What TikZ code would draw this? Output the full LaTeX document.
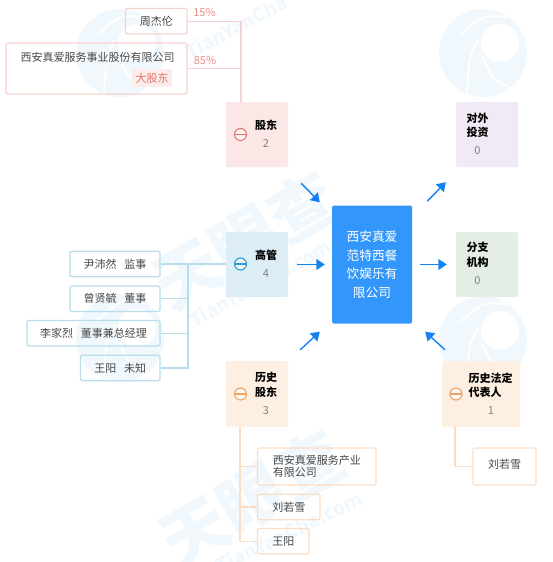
\documentclass[tikz,border=0pt]{standalone}
\usepackage{fontspec}
\setmainfont{Noto Sans CJK SC}
\usetikzlibrary{arrows.meta}
\definecolor{redbg}{HTML}{FBE7E6}
\definecolor{redln}{HTML}{F6D2CE}
\definecolor{redtx}{HTML}{E2796F}
\definecolor{bluebg}{HTML}{DCEDF5}
\definecolor{blueln}{HTML}{B8DDEB}
\definecolor{bluetx}{HTML}{2F9BD0}
\definecolor{orgbg}{HTML}{FEEFE3}
\definecolor{orgln}{HTML}{FBDDC4}
\definecolor{orgtx}{HTML}{F0A164}
\definecolor{purbg}{HTML}{F1E9F6}
\definecolor{grnbg}{HTML}{E4EEE5}
\definecolor{mainbg}{HTML}{3396FB}
\definecolor{flowcl}{HTML}{1482F0}
\definecolor{wmark}{HTML}{F1F8FD}
\tikzset{
  catbox/.style={rounded corners=1.2pt, minimum width=62pt, minimum height=65pt, inner sep=0pt},
  leafbox/.style={draw, rounded corners=1.5pt, line width=1.1pt, inner sep=0pt, minimum height=25.5pt, font=\fontsize{11}{12.5}\selectfont, text=black!72},
  leaftext/.style={inner sep=0pt, font=\fontsize{11}{14.5}\selectfont, text=black!72},
  cattitle/.style={inner sep=0pt, align=left, font=\fontsize{11}{14.5}\selectfont\bfseries},
  catcount/.style={inner sep=0pt, font=\fontsize{11}{13}\selectfont, text=black!50},
  flow/.style={draw=flowcl, line width=1.4pt, -{Triangle[length=8.5pt,width=11pt]}},
  tree/.style={line width=1.1pt},
  pct/.style={inner sep=0pt, font=\fontsize{11}{13}\selectfont, text=redtx!85},
  wmtext/.style={inner sep=0pt, text=wmark, font=\fontsize{66}{66}\selectfont\bfseries},
  wmsmall/.style={inner sep=0pt, text=wmark, font=\fontsize{19}{19}\selectfont\bfseries},
}
% collapse icon: circle with a bar, #1 name, #2 colour, #3 fill, #4 position
\newcommand{\foldicon}[4]{\node[circle, draw=#2, fill=#3!50, line width=1.1pt, inner sep=0pt, minimum size=12pt] (#1) at (#4) {};%
  \draw[#2, line width=1.5pt, shorten <=1.5pt, shorten >=1.5pt] (#1.west) -- (#1.east);}
% watermark logo at #1
\newcommand{\wmlogo}[1]{\begin{scope}[shift={(#1)}]
    \fill[wmark] (0,0) circle (44);
    \fill[white] (17,-10) circle (19);
    \draw[white, line width=1.8pt] (-5,-13) .. controls (-14,5) .. (-16,40);
    \draw[white, line width=1.8pt] (0,4) .. controls (8,25) .. (27,35);
    \draw[white, line width=1.8pt] (-23,-18) .. controls (0,-38) .. (24,-36);
  \end{scope}}

\begin{document}
\begin{tikzpicture}[x=1pt, y=-1pt]
  \useasboundingbox (0,0) rectangle (553,562);
  % watermark
  \wmlogo{120,53}
  \wmlogo{483,53}
  \wmlogo{120,338}
  \wmlogo{483,340}
  \node[wmtext, rotate=30] (wmA) at (245,240) {天眼查};
  \node[wmtext, rotate=30] (wmB) at (252,498) {天眼查};
  \node[wmsmall, rotate=28] (wmC) at (236,27) {TianYanCha};
  \node[wmsmall, rotate=29] (wmD) at (260,283) {TianYanCha.com};
  \node[wmsmall, rotate=26] (wmE) at (289,532) {TianYanCha.com};
  % centre company
  \node[rounded corners=1.5pt, fill=mainbg, text=white, minimum width=80pt, minimum height=118pt, inner sep=0pt, align=center, font=\fontsize{12.7}{18.5}\selectfont] (company) at (372,264.5) {西安真爱\\范特西餐\\饮娱乐有\\限公司};
  % category boxes
  \node[catbox, fill=redbg] (holder) at (257,134.5) {};
  \node[catbox, fill=bluebg] (manager) at (257,264.5) {};
  \node[catbox, fill=orgbg, minimum height=66pt] (oldholder) at (257,394) {};
  \node[catbox, fill=purbg] (invest) at (487,134.5) {};
  \node[catbox, fill=grnbg] (branch) at (487,264.5) {};
  \node[catbox, fill=orgbg, minimum width=78pt, minimum height=66pt] (oldlegal) at (481,394) {};
  % shareholders
  \node[leafbox, draw=redln, minimum width=61.5pt] (zhou) at (156.25,21.25) {周杰伦};
  \node[leafbox, draw=redln, minimum width=181pt, minimum height=51pt] (xaservice) at (96.5,68.5) {};
  \node[leaftext] (xaname) at (97.5,57) {西安真爱服务事业股份有限公司};
  \node[inner sep=0pt, fill=redbg!80, text=redtx, minimum width=40pt, minimum height=18pt, font=\fontsize{11}{13}\selectfont] (bigtag) at (152,78) {大股东};
  \node[pct] (pctA) at (204.5,12) {15\%};
  \node[pct] (pctB) at (205,60) {85\%};
  \draw[tree, redln] (zhou.east) -| ([xshift=-16pt]holder.north);
  \draw[tree, redln] (xaservice.east) -- +(54,0);
  % managers
  \node[leafbox, draw=blueln, minimum width=90pt] (yin) at (115,264) {尹沛然\hspace{0.7em}监事};
  \node[leafbox, draw=blueln, minimum width=90pt] (zeng) at (115,298.75) {曾贤毓\hspace{0.7em}董事};
  \node[leafbox, draw=blueln, minimum width=133pt] (li) at (93.5,333.25) {李家烈\hspace{0.7em}董事兼总经理};
  \node[leafbox, draw=blueln, minimum width=79.5pt] (wangA) at (120.25,368) {王阳\hspace{0.7em}未知};
  \coordinate (managerbus) at (188,264);
  \draw[tree, blueln] (yin.east) -- (yin.east -| manager.west);
  \foreach \n in {zeng,li,wangA}
    \draw[tree, blueln] (\n.east) -| (managerbus);
  % former shareholders
  \node[leafbox, draw=orgln, minimum width=118.5pt, minimum height=37pt, align=left] (xaold) at (316.75,466.5) {西安真爱服务产业\\有限公司};
  \node[leafbox, draw=orgln, minimum width=62.5pt] (liuA) at (288.75,507) {刘若雪};
  \node[leafbox, draw=orgln, minimum width=51.5pt] (wangB) at (283.25,541.25) {王阳};
  \coordinate (oldtop) at (240,427);
  \foreach \n in {xaold,liuA,wangB}
    \draw[tree, orgln] (oldtop) |- (\n.west);
  % former legal representative
  \node[leafbox, draw=orgln, minimum width=63pt, minimum height=37pt] (liuB) at (504.5,466.5) {\raisebox{4.5pt}{刘若雪}};
  \coordinate (legaltop) at (455,427);
  \draw[tree, orgln] (legaltop) |- (liuB.west);
  % labels of the categories
  \node[cattitle] (holdertitle) at (266,125) {股东};
  \node[catcount] (holdercount) at (266,144) {2};
  \node[cattitle] (managertitle) at (266,255) {高管};
  \node[catcount] (managercount) at (266,274) {4};
  \node[cattitle] (oldholdertitle) at (266,385) {历史\\股东};
  \node[catcount] (oldholdercount) at (266,410.5) {3};
  \node[cattitle] (investtitle) at (477.5,125.5) {对外\\投资};
  \node[catcount] (investcount) at (477.5,151) {0};
  \node[cattitle] (branchtitle) at (477.5,255) {分支\\机构};
  \node[catcount] (branchcount) at (477.5,280.5) {0};
  \node[cattitle] (oldlegaltitle) at (490.5,385) {历史法定\\代表人};
  \node[catcount] (oldlegalcount) at (491,410.5) {1};
  % icons
  \foldicon{iconA}{redtx}{redbg}{240.5,134.5}
  \foldicon{iconB}{bluetx}{bluebg}{240.5,264}
  \foldicon{iconC}{orgtx}{orgbg}{240.5,394}
  \foldicon{iconD}{orgtx}{orgbg}{456,394}
  % arrows round the company
  \draw[flow] ([shift={(13,16)}]holder.south east) -- ([shift={(-12,-3)}]company.north west);
  \draw[flow] ([xshift=9pt]manager.east) -- ([xshift=-7pt]company.west);
  \draw[flow] ([shift={(12,-11)}]oldholder.north east) -- ([shift={(-12,8)}]company.south west);
  \draw[flow] ([shift={(15,-4)}]company.north east) -- ([shift={(-10,15)}]invest.south west);
  \draw[flow] ([xshift=8pt]company.east) -- ([xshift=-9pt]branch.west);
  \draw[flow] ([shift={(-36,-11)}]oldlegal.north) -- ([shift={(13,8)}]company.south east);
\end{tikzpicture}
\end{document}
